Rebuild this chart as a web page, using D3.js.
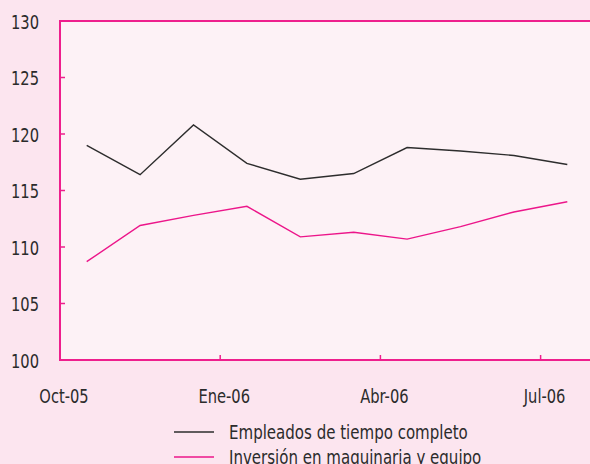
<!DOCTYPE html>
<html>
<head>
<meta charset="utf-8">
<script src="https://cdn.jsdelivr.net/npm/d3@7"></script>
<style>
  html, body { margin: 0; padding: 0; background: #fce5ef; }
  text { font-family: "Liberation Sans Narrow", "DejaVu Sans Condensed", sans-serif; fill: #2b2b2b; }
</style>
</head>
<body>
<div id="chart"></div>
<script>
// Data
const months = ["Oct-05", "Nov-05", "Dic-05", "Ene-06", "Feb-06", "Mar-06", "Abr-06", "May-06", "Jun-06", "Jul-06"];
const empleados = [119.0, 116.4, 120.8, 117.4, 116.0, 116.5, 118.8, 118.5, 118.1, 117.3];
const inversion = [108.7, 111.9, 112.8, 113.6, 110.9, 111.3, 110.7, 111.8, 113.1, 114.0];
const yTicks = [100, 105, 110, 115, 120, 125, 130];
const xLabels = ["Oct-05", "Ene-06", "Abr-06", "Jul-06"];
const seriesNames = ["Empleados de tiempo completo", "Inversión en maquinaria y equipo"];

const W = 590, H = 464;
const margin = {top: 21, right: -4, bottom: 104, left: 60};
const width = W - margin.left - margin.right,
      height = H - margin.top - margin.bottom;

const pink = "#ee1f8d";
const squeeze = 0.86; // the original font is narrower than what we have

const svg = d3.select("#chart")
  .append("svg")
  .attr("width", W)
  .attr("height", H)
  .style("display", "block");

svg.append("rect").attr("width", W).attr("height", H).attr("fill", "#fce5ef");

const g = svg.append("g").attr("transform", `translate(${margin.left},${margin.top})`);

// band scale for months, points at band centres
const x = d3.scaleBand().domain(months).range([0, width]).padding(0);
const y = d3.scaleLinear().domain([100, 130]).range([height, 0]);

// plot area
g.append("rect")
  .attr("width", width)
  .attr("height", height)
  .attr("fill", "#fdf2f6");

// y axis ticks (inward) + labels
g.selectAll(".ytick")
  .data(yTicks)
  .enter()
  .append("line")
  .attr("x1", 0).attr("x2", 5)
  .attr("y1", d => y(d)).attr("y2", d => y(d))
  .attr("stroke", pink).attr("stroke-width", 1.5);

g.selectAll(".ylabel")
  .data(yTicks)
  .enter()
  .append("text")
  .attr("transform", d => `translate(-21,${y(d) + 1}) scale(${squeeze},1)`)
  .attr("dy", "0.35em")
  .attr("text-anchor", "end")
  .attr("font-size", 19)
  .text(d => d);

// x ticks at quarter boundaries
const qStarts = ["Ene-06", "Abr-06", "Jul-06"];
g.selectAll(".xtick")
  .data(qStarts)
  .enter()
  .append("line")
  .attr("x1", d => x(d)).attr("x2", d => x(d))
  .attr("y1", height).attr("y2", height - 5)
  .attr("stroke", pink).attr("stroke-width", 1.5);

g.selectAll(".xlabel")
  .data(xLabels)
  .enter()
  .append("text")
  .attr("transform", d => `translate(${x(d) + 4},${height + 36}) scale(${squeeze},1)`)
  .attr("dy", "0.35em")
  .attr("text-anchor", "middle")
  .attr("font-size", 19)
  .text(d => d);

// axis frame: left, top, bottom
g.append("path")
  .attr("d", `M${width},0H0V${height}H${width}`)
  .attr("fill", "none")
  .attr("stroke", pink)
  .attr("stroke-width", 2);

// lines
const line = d3.line()
  .x((d, i) => x(months[i]) + x.bandwidth() / 2)
  .y(d => y(d));

g.append("path")
  .datum(empleados)
  .attr("d", line)
  .attr("fill", "none")
  .attr("stroke", "#2d2d2d")
  .attr("stroke-width", 1.4);

g.append("path")
  .datum(inversion)
  .attr("d", line)
  .attr("fill", "none")
  .attr("stroke", "#ec168a")
  .attr("stroke-width", 1.4);

// legend
const legend = svg.append("g").attr("transform", "translate(174,432)");
const legColors = ["#2d2d2d", "#ec168a"];
seriesNames.forEach((name, i) => {
  const row = legend.append("g").attr("transform", `translate(0,${i * 25})`);
  row.append("line")
    .attr("x1", 0).attr("x2", 40)
    .attr("y1", 0).attr("y2", 0)
    .attr("stroke", legColors[i])
    .attr("stroke-width", 1.4);
  row.append("text")
    .attr("transform", `translate(55,0) scale(${squeeze + 0.02},1)`)
    .attr("dy", "0.35em")
    .attr("font-size", 19)
    .text(name);
});
</script>
</body>
</html>
